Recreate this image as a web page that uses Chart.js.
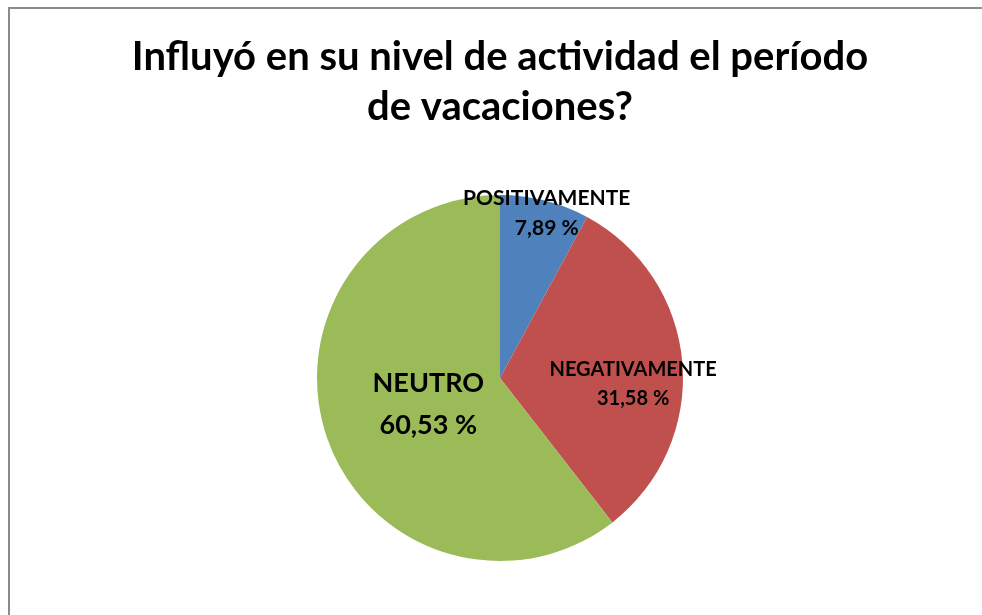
<!DOCTYPE html>
<html>
<head>
<meta charset="utf-8">
<script src="https://cdn.jsdelivr.net/npm/chart.js@4.4.1/dist/chart.umd.min.js"></script>
<style>
    html, body { margin: 0; padding: 0; background: #fff; overflow: hidden; }
    #wrap { position: relative; width: 982px; height: 615px; overflow: hidden; }
    #frame {
        position: absolute; left: 8px; top: 7px; width: 1100px; height: 700px;
        border: 2px solid #8a8a8a; box-sizing: border-box;
    }
    #box { position: absolute; left: 0; top: 0; width: 1000px; height: 615px; }
</style>
</head>
<body>
<div id="wrap">
    <div id="frame"></div>
    <div id="box"><canvas id="pieChart"></canvas></div>
</div>
<script>
    // Data
    const categories = ['POSITIVAMENTE', 'NEGATIVAMENTE', 'NEUTRO'];
    const percentages = [7.89, 31.58, 60.53];
    const sliceColors = ['#4F81BD', '#C0504D', '#9BBB59'];
    const chartTitle = ['Influyó en su nivel de actividad el período', 'de vacaciones?'];

    const FONT = "Lato, 'Open Sans', sans-serif";

    // label placement per slice: radial factor, pixel nudge, font size, line gap
    const labelStyle = [
        { f: 0.93, dx: 5, dy: 0, size: 21, gap: 30 },
        { f: 0.73, dx: 0, dy: 17, size: 20, gap: 29 },
        { f: 0.42, dx: 1, dy: 1, size: 27, gap: 42 }
    ];

    const fmt = function (v) {
        return v.toFixed(2).replace('.', ',') + ' %';
    };

    // title drawn by hand so it is not squeezed into the pie's width
    const titleText = {
        id: 'titleText',
        afterDraw: function (chart) {
            const ctx = chart.ctx;
            ctx.save();
            ctx.fillStyle = '#000';
            ctx.textAlign = 'center';
            ctx.textBaseline = 'middle';
            ctx.font = 'bold 40px ' + FONT;
            chartTitle.forEach(function (line, i) {
                ctx.fillText(line, 500, 57 + i * 50);
            });
            ctx.restore();
        }
    };

    const sliceLabels = {
        id: 'sliceLabels',
        afterDatasetsDraw: function (chart) {
            const ctx = chart.ctx;
            const meta = chart.getDatasetMeta(0);
            ctx.save();
            ctx.fillStyle = '#000';
            ctx.textAlign = 'center';
            ctx.textBaseline = 'middle';
            meta.data.forEach(function (arc, i) {
                const st = labelStyle[i];
                const mid = (arc.startAngle + arc.endAngle) / 2;
                const x = arc.x + Math.cos(mid) * arc.outerRadius * st.f + st.dx;
                const y = arc.y + Math.sin(mid) * arc.outerRadius * st.f + st.dy;
                ctx.font = 'bold ' + st.size + 'px ' + FONT;
                ctx.fillText(categories[i], x, y - st.gap / 2);
                ctx.fillText(fmt(percentages[i]), x, y + st.gap / 2);
            });
            ctx.restore();
        }
    };

    new Chart(document.getElementById('pieChart'), {
        type: 'pie',
        data: {
            labels: categories,
            datasets: [{
                data: percentages,
                backgroundColor: sliceColors,
                borderWidth: 0
            }]
        },
        options: {
            responsive: true,
            maintainAspectRatio: false,
            animation: false,
            layout: {
                padding: { left: 317, right: 317, top: 195, bottom: 54 }
            },
            plugins: {
                legend: { display: false },
                tooltip: { enabled: false },
                title: { display: false }
            }
        },
        plugins: [sliceLabels, titleText]
    });
</script>
</body>
</html>
